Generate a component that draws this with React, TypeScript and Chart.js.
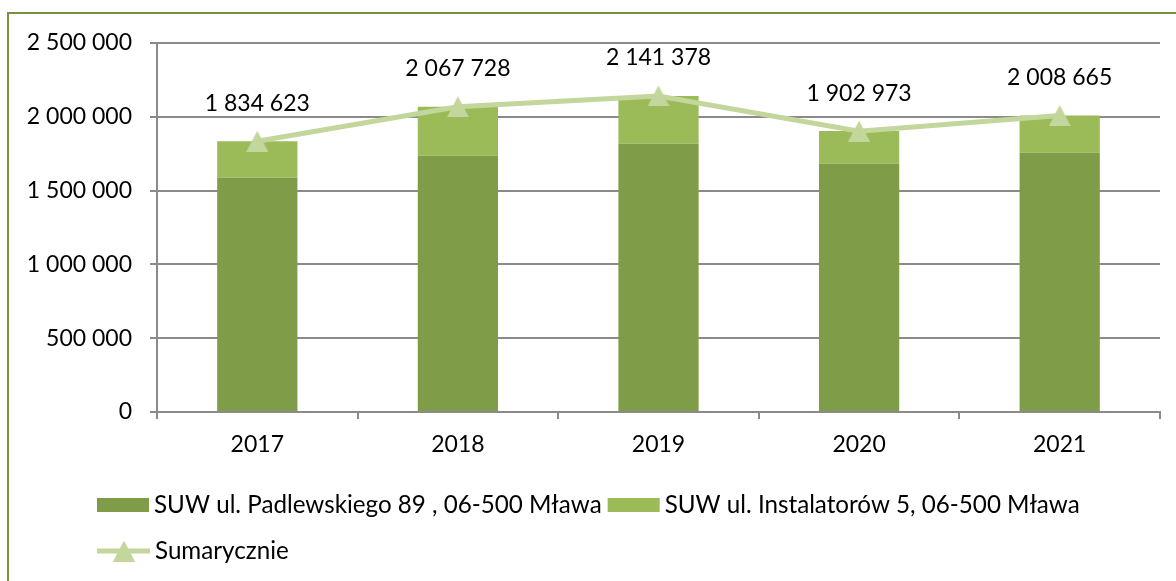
import React, { useEffect, useRef } from 'react';
import { Chart, registerables } from 'chart.js';

Chart.register(...registerables);

// ---- data ----
const years = ['2017', '2018', '2019', '2020', '2021'];
const padlewskiego = [1587000, 1736000, 1818000, 1682000, 1757000];
const instalatorow = [247623, 331728, 323378, 220973, 251665];
const sumarycznie = [1834623, 2067728, 2141378, 1902973, 2008665];
const seriesLabels = [
  'SUW ul. Padlewskiego 89 , 06-500 Mława',
  'SUW ul. Instalatorów 5, 06-500 Mława',
  'Sumarycznie',
];
const yMin = 0;
const yMax = 2500000;
const yStep = 500000;

// ---- styles ----
const DARK = '#7F9C48';
const LIGHT = '#9BBB59';
const LINE = '#C3D69B';
const GRID = '#8A8A8A';
const BORDER = '#77933C';
const FONT_FAMILY = 'Lato, "Open Sans", sans-serif';
const FONT_SIZE = 23;
const FONT_STR = `${FONT_SIZE}px ${FONT_FAMILY}`;
const LEGEND_FONT_STR = `24.2px ${FONT_FAMILY}`;

const fmt = (v: number) =>
  Math.round(v)
    .toString()
    .replace(/\B(?=(\d{3})+(?!\d))/g, ' ');

function makeTriangle(w: number, h: number, color: string) {
  const c = document.createElement('canvas');
  c.width = w;
  c.height = h;
  const ctx = c.getContext('2d')!;
  ctx.fillStyle = color;
  ctx.beginPath();
  ctx.moveTo(w / 2, 0);
  ctx.lineTo(w, h);
  ctx.lineTo(0, h);
  ctx.closePath();
  ctx.fill();
  return c;
}

export default function App() {
  const ref = useRef<HTMLCanvasElement | null>(null);

  useEffect(() => {
    if (!ref.current) return;
    const tri = makeTriangle(22, 21, LINE);

    const labelPlugin = {
      id: 'totalsLabels',
      afterDatasetsDraw(chart: any) {
        const ctx = chart.ctx;
        const meta = chart.getDatasetMeta(2);
        const ds = chart.data.datasets[2];
        ctx.save();
        ctx.font = FONT_STR;
        ctx.fillStyle = '#000';
        ctx.textAlign = 'center';
        ctx.textBaseline = 'middle';
        meta.data.forEach((pt: any, i: number) => {
          ctx.fillText(fmt(ds.data[i] as number), pt.x, pt.y - 38);
        });
        ctx.restore();
      },
    };

    const legendPlugin = {
      id: 'customLegend',
      afterDraw(chart: any) {
        const ctx = chart.ctx;
        const ds = chart.data.datasets;
        ctx.save();
        ctx.font = LEGEND_FONT_STR;
        ctx.fillStyle = '#000';
        ctx.textAlign = 'left';
        ctx.textBaseline = 'middle';
        // row 1: bars
        let x = 97;
        const y1 = 505;
        [0, 1].forEach((i) => {
          ctx.fillStyle = ds[i].backgroundColor;
          ctx.fillRect(x, y1 - 7, 52, 14);
          ctx.fillStyle = '#000';
          const tx = x + 57;
          ctx.fillText(ds[i].label, tx, y1);
          x = tx + ctx.measureText(ds[i].label).width + 6;
        });
        // row 2: line
        const y2 = 551;
        ctx.strokeStyle = ds[2].borderColor;
        ctx.lineWidth = 5;
        ctx.beginPath();
        ctx.moveTo(97, y2);
        ctx.lineTo(150, y2);
        ctx.stroke();
        ctx.drawImage(tri, 124 - 11, y2 - 10.5);
        ctx.fillStyle = '#000';
        ctx.fillText(ds[2].label, 155, y2);
        ctx.restore();
      },
    };

    const chart = new Chart(ref.current, {
      type: 'bar',
      data: {
        labels: years,
        datasets: [
          {
            type: 'bar',
            label: seriesLabels[0],
            data: padlewskiego,
            backgroundColor: DARK,
            borderWidth: 0,
            stack: 'bars',
            order: 1,
            categoryPercentage: 0.4,
            barPercentage: 1,
          } as any,
          {
            type: 'bar',
            label: seriesLabels[1],
            data: instalatorow,
            backgroundColor: LIGHT,
            borderWidth: 0,
            stack: 'bars',
            order: 2,
            categoryPercentage: 0.4,
            barPercentage: 1,
          } as any,
          {
            type: 'line',
            label: seriesLabels[2],
            data: sumarycznie,
            borderColor: LINE,
            backgroundColor: LINE,
            borderWidth: 5,
            pointStyle: tri,
            pointRadius: 11,
            tension: 0,
            stack: 'sum',
            order: 0,
          } as any,
        ],
      },
      options: {
        animation: false,
        responsive: false,
        maintainAspectRatio: false,
        layout: { padding: { top: 43, right: 14, left: 0, bottom: 109 } },
        plugins: {
          legend: { display: false },
          tooltip: { enabled: false },
          title: { display: false },
        },
        scales: {
          x: {
            stacked: true,
            offset: true,
            grid: {
              offset: true,
              drawOnChartArea: false,
              drawTicks: true,
              tickLength: 7,
              color: GRID,
              lineWidth: 2,
            },
            border: { color: GRID, width: 2 },
            ticks: {
              color: '#000',
              font: { family: FONT_FAMILY, size: FONT_SIZE },
              padding: 12,
            },
            afterFit: (s: any) => {
              s.height = 60;
            },
          },
          y: {
            stacked: true,
            min: yMin,
            max: yMax,
            ticks: {
              stepSize: yStep,
              callback: (v: any) => fmt(Number(v)),
              color: '#000',
              font: { family: FONT_FAMILY, size: FONT_SIZE },
              padding: 18,
            },
            grid: { color: GRID, lineWidth: 2, tickLength: 7 },
            border: { color: GRID, width: 2 },
            afterFit: (s: any) => {
              s.width = 157;
            },
          },
        },
      } as any,
      plugins: [labelPlugin, legendPlugin],
    });
    return () => chart.destroy();
  }, []);

  return (
    <div
      style={{
        position: 'fixed',
        left: 0,
        top: 0,
        width: 1176,
        height: 581,
        overflow: 'hidden',
        background: '#fff',
      }}
    >
      <div
        style={{
          position: 'absolute',
          left: 7,
          top: 12,
          width: 1300,
          height: 700,
          borderLeft: `2px solid ${BORDER}`,
          borderTop: `2px solid ${BORDER}`,
        }}
      />
      <canvas
        ref={ref}
        width={1176}
        height={581}
        style={{ position: 'absolute', left: 0, top: 0, width: 1176, height: 581 }}
      />
    </div>
  );
}
